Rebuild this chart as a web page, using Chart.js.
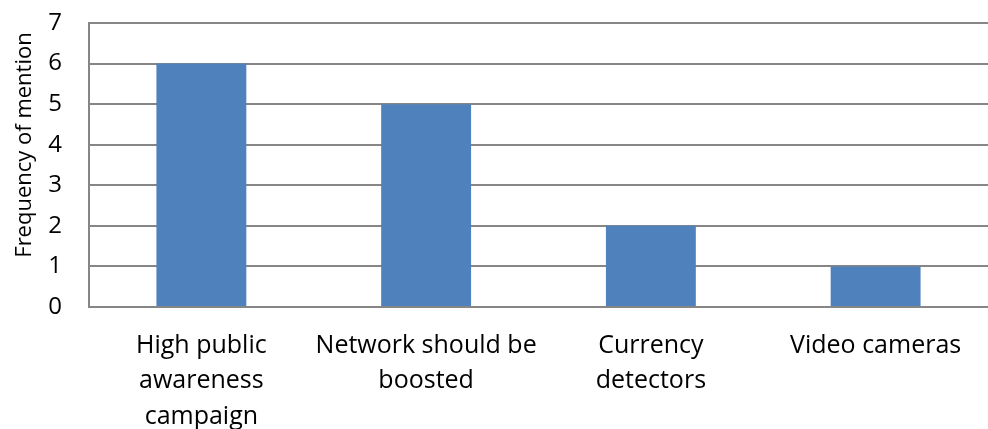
<!DOCTYPE html>
<html>
<head>
<meta charset="utf-8">
<script src="https://cdn.jsdelivr.net/npm/chart.js@4.4.0/dist/chart.umd.min.js"></script>
<style>
  html, body { margin: 0; padding: 0; background: #fff; }
  #wrap { width: 988px; height: 429px; }
</style>
</head>
<body>
<div id="wrap"><canvas id="freqChart" width="988" height="429"></canvas></div>
<script>
// data
const categories = [
  ['High public', 'awareness', 'campaign'],
  ['Network should be', 'boosted'],
  ['Currency', 'detectors'],
  'Video cameras'
];
const mentions = [6, 5, 2, 1];
const yTicks = [0, 1, 2, 3, 4, 5, 6, 7];
const yTitle = 'Frequency of mention';

const gridColor = '#868686';
const fontFamily = '"Open Sans", sans-serif';

// the axis title sits a bit above the middle of the axis, so draw it here
const yTitlePlugin = {
  id: 'yTitle',
  afterDraw(chart) {
    const c = chart.ctx;
    c.save();
    c.translate(25, 145);
    c.rotate(-Math.PI / 2);
    c.font = '22px ' + fontFamily;
    c.fillStyle = '#000';
    c.textAlign = 'center';
    c.textBaseline = 'middle';
    c.fillText(yTitle, 0, 0);
    c.restore();
  }
};

const ctx = document.getElementById('freqChart');
new Chart(ctx.getContext('2d'), {
  type: 'bar',
  data: {
    labels: categories,
    datasets: [{
      data: mentions,
      backgroundColor: '#4F81BD',
      categoryPercentage: 1,
      barPercentage: 0.4
    }]
  },
  options: {
    responsive: false,
    animation: { duration: 0 },
    layout: { padding: { top: 23, right: 0, bottom: 0, left: 0 } },
    plugins: {
      legend: { display: false },
      tooltip: { enabled: false }
    },
    scales: {
      x: {
        grid: { display: false },
        border: { display: true, color: gridColor, width: 2 },
        ticks: {
          color: '#000',
          font: { family: fontFamily, size: 25, lineHeight: 1.42 },
          padding: 13,
          maxRotation: 0,
          autoSkip: false
        },
        afterFit: function(scale) {
          scale.height = 429 - 307;
          scale.paddingLeft = 0;
          scale.paddingRight = 0;
        }
      },
      y: {
        min: 0,
        max: 7,
        afterBuildTicks: function(scale) {
          scale.ticks = yTicks.map(v => ({ value: v }));
        },
        grid: { color: gridColor, lineWidth: 2, drawTicks: false },
        border: { display: true, color: gridColor, width: 2 },
        ticks: {
          color: '#000',
          font: { family: fontFamily, size: 24 },
          padding: 27
        },
        afterFit: function(scale) {
          scale.width = 89;
          scale.paddingTop = 0;
          scale.paddingBottom = 0;
        }
      }
    }
  },
  plugins: [yTitlePlugin]
});
</script>
</body>
</html>
